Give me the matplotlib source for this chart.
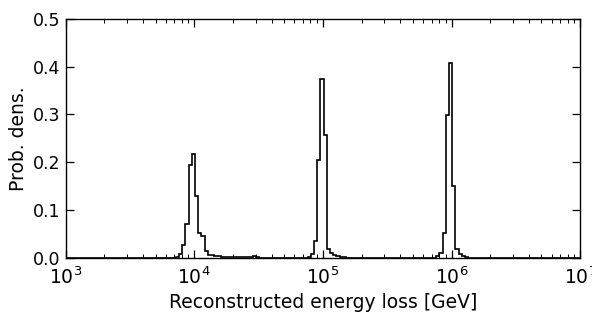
import numpy as np
import matplotlib
matplotlib.use("Agg")
import matplotlib.pyplot as plt

# log10 of bin edges: 0.025-decade bins starting at 10^2.98
bin_log_start = 2.98
bin_log_width = 0.025
n_bins = 162

# Non-zero histogram runs: index of first bin and densities
peak1_start = 35
peak1_values = [0.002, 0.008, 0.027, 0.07, 0.194, 0.217, 0.13, 0.052, 0.045,
                0.013, 0.006, 0.005, 0.004, 0.003, 0.002, 0.002, 0.002, 0.002,
                0.002, 0.001, 0.001, 0.001, 0.001, 0.001, 0.003, 0.001]
peak2_start = 76
peak2_values = [0.002, 0.008, 0.034, 0.205, 0.375, 0.257, 0.018, 0.01, 0.005,
                0.003, 0.002, 0.001]
peak3_start = 116
peak3_values = [0.004, 0.01, 0.051, 0.299, 0.4075, 0.150, 0.018, 0.007, 0.003,
                0.001]

density = np.zeros(n_bins)
for start, vals in [(peak1_start, peak1_values), (peak2_start, peak2_values),
                    (peak3_start, peak3_values)]:
    density[start:start + len(vals)] = vals
edges = 10 ** (bin_log_start + bin_log_width * np.arange(n_bins + 1))

plt.rcParams['font.family'] = ['DejaVu Sans']
plt.rcParams['font.size'] = 12

fig = plt.figure(figsize=(5.92, 3.14), dpi=100)
ax = fig.add_axes([0.111, 0.1793, 0.869, 0.7602])
ax.stairs(density, edges, color='black', linewidth=1.2)
ax.set_xscale('log')
ax.set_xlim(1e3, 1e7)
ax.set_ylim(0, 0.5)
ax.set_yticks([0.0, 0.1, 0.2, 0.3, 0.4, 0.5])
ax.set_xlabel('Reconstructed energy loss [GeV]', fontsize=13.5, labelpad=4)
ax.set_ylabel('Prob. dens.', fontsize=13.5, labelpad=3)
ax.tick_params(which='both', direction='in', top=True, right=True)
ax.tick_params(axis='y', labelsize=12.5, pad=4)
ax.tick_params(axis='x', labelsize=13.5, pad=6)
ax.tick_params(which='major', length=6, width=0.9)
ax.tick_params(which='minor', length=3, width=0.7)
for s in ax.spines.values():
    s.set_linewidth(1.0)

fig.savefig('out.png', dpi=100)
